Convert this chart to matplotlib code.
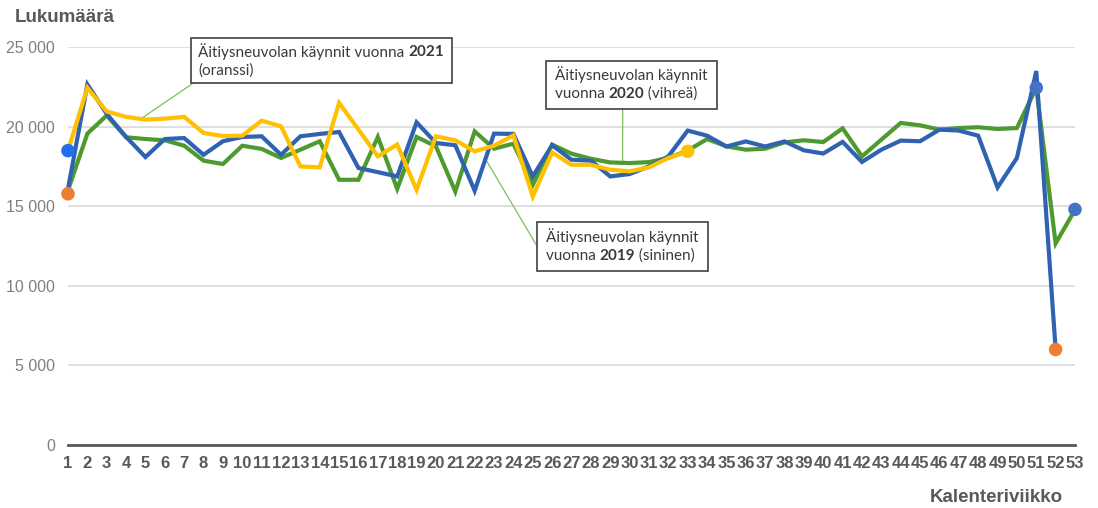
import matplotlib
matplotlib.use("Agg")
import matplotlib.pyplot as plt
from matplotlib.patches import Rectangle

# kalenteriviikot ja käyntimäärät (luettu kuvasta)
weeks = list(range(1, 54))
visits_2019 = [16100, 22650, 20800, 19350, 18090, 19220, 19280, 18230, 19080, 19350,
               19390, 18230, 19390, 19540, 19660, 17400, 17140, 16870, 20270, 18970,
               18830, 15970, 19560, 19540, 16870, 18830, 17920, 17860, 16870, 17020,
               17500, 18130, 19750, 19430, 18750, 19070, 18750, 19070, 18510, 18310,
               19040, 17780, 18550, 19120, 19080, 19810, 19750, 19430, 16180, 18030,
               23490, 6000]
visits_2020 = [16000, 19560, 20700, 19330, 19220, 19140, 18800, 17860, 17650, 18800,
               18600, 18030, 18550, 19080, 16660, 16660, 19350, 16090, 19350, 18760,
               15920, 19700, 18610, 18930, 16340, 18870, 18300, 17980, 17750, 17710,
               17770, 18030, 18490, 19220, 18760, 18550, 18610, 19010, 19140, 19030,
               19890, 18130, 19180, 20230, 20080, 19810, 19910, 19960, 19850, 19910,
               22440, 12670, 14770]
visits_2021 = [18490, 22440, 20950, 20610, 20440, 20500, 20610, 19600, 19410, 19430,
               20370, 20020, 17500, 17440, 21490, 19810, 18130, 18870, 16030, 19390,
               19140, 18450, 18800, 19450, 15610, 18380, 17600, 17600, 17290, 17190,
               17440, 18030, 18450]

# pisteet: viikko, arvo, väri
dot_weeks = [1, 1, 33, 51, 52, 53]
dot_values = [18490, 15780, 18450, 22440, 6000, 14800]
dot_colors = ["#1f6ff0", "#ed7d31", "#ffc000", "#4472c4", "#ed7d31", "#4472c4"]

y_ticks = [0, 5000, 10000, 15000, 20000, 25000]

BLUE = "#2f62b0"
GREEN = "#4e9a2f"
YELLOW = "#ffc000"
GRID = "#d9d9d9"
TXT = "#595959"

W, H = 1098, 508
fig = plt.figure(figsize=(W / 100, H / 100), dpi=100)
ax = fig.add_axes([68 / W, 1 - 445 / H, (1075 - 68) / W, (445 - 47) / H])

ax.plot(weeks, visits_2020, color=GREEN, lw=3, solid_joinstyle="miter", zorder=3, clip_on=False)
ax.plot(weeks[:len(visits_2019)], visits_2019, color=BLUE, lw=3, solid_joinstyle="miter", zorder=4, clip_on=False)
ax.plot(weeks[:len(visits_2021)], visits_2021, color=YELLOW, lw=3, solid_joinstyle="miter", zorder=5, clip_on=False)
ax.scatter(dot_weeks, dot_values, s=95, c=dot_colors, zorder=6, clip_on=False, linewidths=0)

ax.set_xlim(1, 53)
ax.set_ylim(0, 25000)
ax.set_yticks(y_ticks)
ax.set_yticklabels([f"{v:,}".replace(",", " ") for v in y_ticks],
                   fontfamily="Liberation Sans", fontsize=11.5, color="#7f7f7f")
ax.set_xticks(weeks)
ax.set_xticklabels([str(w) for w in weeks], fontfamily="Liberation Sans",
                   fontsize=12, fontweight="bold", color=TXT)
ax.tick_params(axis="both", length=0)
ax.tick_params(axis="y", pad=9.4)
ax.tick_params(axis="x", pad=8)
ax.grid(axis="y", color=GRID, lw=1.2)
ax.set_axisbelow(True)
for s in ["top", "right", "left"]:
    ax.spines[s].set_visible(False)
ax.spines["bottom"].set_color(TXT)
ax.spines["bottom"].set_linewidth(2)
ax.spines["bottom"].set_zorder(2)

fig.text(15 / W, 1 - 17 / H, "Lukumäärä", fontfamily="Liberation Sans", fontsize=13.5,
         fontweight="bold", color=TXT, va="center", ha="left")
fig.text(1063 / W, 1 - 497 / H, "Kalenteriviikko", fontfamily="Liberation Sans", fontsize=13.5,
         fontweight="bold", color=TXT, va="center", ha="right")


def fp(x, y):
    return (x / W, 1 - y / H)


def box(x0, y0, x1, y1, lines, tx):
    fig.patches.append(Rectangle(fp(x0, y1), (x1 - x0) / W, (y1 - y0) / H,
                                 transform=fig.transFigure, facecolor="white",
                                 edgecolor="#404040", lw=1.2, zorder=10))
    r = fig.canvas.get_renderer()
    for parts, ty in lines:
        x = tx
        for s, bold in parts:
            t = fig.text(*fp(x, ty), s, fontfamily="Lato", fontsize=11,
                         fontweight="bold" if bold else "normal", color="#3a3a3a",
                         va="center", ha="left", zorder=11)
            x += t.get_window_extent(r).width


def connector(x, y, fx, fy):
    ax.annotate("", xy=(x, y), xytext=(fx, H - fy), textcoords="figure pixels",
                arrowprops=dict(arrowstyle="-", color="#7fbf5f", lw=0.9,
                                shrinkA=0, shrinkB=0), zorder=2)


box(191, 38, 452, 83,
    [([("Äitiysneuvolan käynnit vuonna ", False), ("2021", True)], 52),
     ([("(oranssi)", False)], 71)], 198)
connector(4.67, 20410, 192, 84)

box(546, 61, 717, 109,
    [([("Äitiysneuvolan käynnit", False)], 75),
     ([("vuonna ", False), ("2020", True), (" (vihreä)", False)], 94)], 555)
connector(29.64, 17710, 622.7, 109)

box(537, 222, 708, 271,
    [([("Äitiysneuvolan käynnit", False)], 237),
     ([("vuonna ", False), ("2019", True), (" (sininen)", False)], 256)], 546)
connector(22.53, 18020, 537, 246)

fig.savefig("out.png", dpi=100)
